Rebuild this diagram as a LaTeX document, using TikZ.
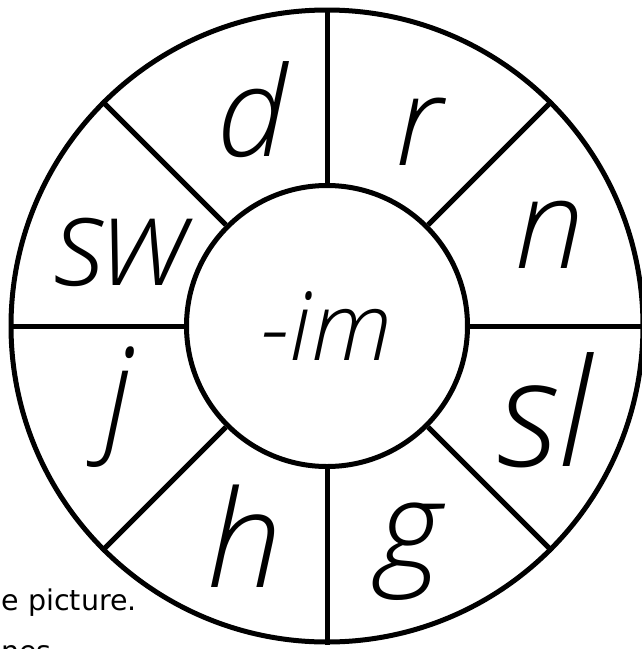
\documentclass[tikz,border=0pt]{standalone}
\usepackage{fontspec}
\newfontfamily\handfont{Open Sans Light Italic}
\newfontfamily\notefont{DejaVu Sans}
\usetikzlibrary{positioning}

\begin{document}
\begin{tikzpicture}[x=1pt,y=-1pt,
  ring/.style={circle,draw,line width=5pt,inner sep=0pt},
  spoke/.style={line width=5pt},
  sound/.style={inner sep=0pt,font=\fontsize{125}{125}\handfont},
  note/.style={inner sep=0pt,anchor=base east,font=\fontsize{28.5}{32}\notefont}]
  \useasboundingbox (0,0) rectangle (642,649);
  \clip (0,0) rectangle (642,649);
  % wheel
  \node[ring,minimum size=632pt] (rim) at (327,326) {};
  \node[ring,minimum size=281pt,font=\fontsize{95}{95}\handfont] (hub) at (327,326) {-im};
  \foreach \a in {0,45,...,315}
    \draw[spoke] (hub.\a) -- (rim.\a);
  % onsets
  \node[sound] (d) at (252,110) {d};
  \node[sound] (r) at (418,132) {r};
  \node[sound] (n) at (549,235) {n};
  \node[sound,font=\fontsize{150}{150}\handfont] (sl) at (545,410) {sl};
  \node[sound] (g) at (410,552) {g};
  \node[sound,font=\fontsize{135}{135}\handfont] (h) at (244,536) {h};
  \node[sound] (j) at (119,407) {j};
  \node[sound] (sw) at (122,252) {sw};
  % cut-off text
  \node[note] (line1) at (137,610) {e picture.};
  \node[note] (line2) at (52,661) {nes};
\end{tikzpicture}
\end{document}
